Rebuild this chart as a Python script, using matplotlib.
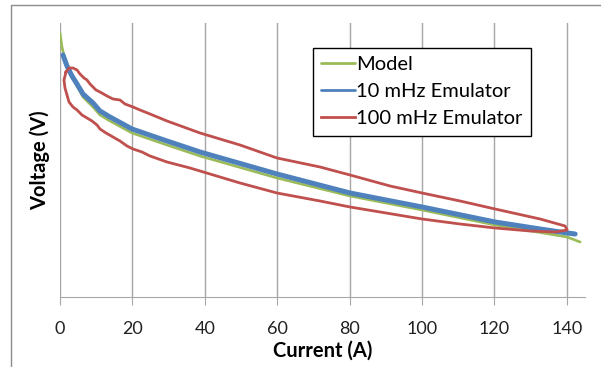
import matplotlib.pyplot as plt
from matplotlib.lines import Line2D

plt.rcParams['font.family'] = ['Lato', 'DejaVu Sans']

# Model
model_i = [0, 0.28, 0.55, 1.1, 1.93, 3.31, 4.70, 6.35, 9.12, 11.05, 13.81, 19.89, 29.56,
           38.67, 59.94, 80.11, 100.0, 120.17, 140.06, 143.65]
model_v = [26.4, 25.7, 25.0, 24.2, 23.1, 22.0, 21.1, 20.0, 19.0, 18.2, 17.6, 16.4, 15.2,
           14.1, 11.9, 10.1, 8.7, 7.2, 6.0, 5.5]

# 10 mHz emulator
emu10_i = [0.83, 1.93, 3.31, 4.70, 6.35, 9.12, 11.05, 13.81, 19.89, 29.56, 38.67, 59.94,
           80.11, 100.0, 120.17, 132.6, 140.06, 142.27]
emu10_v = [24.2, 23.1, 22.1, 21.3, 20.3, 19.4, 18.6, 18.0, 16.8, 15.6, 14.5, 12.3,
           10.4, 9.0, 7.5, 6.8, 6.4, 6.3]

# 100 mHz emulator (loop: lower branch out, upper branch back)
emu100_i = [1.66, 1.10, 1.38, 1.93, 2.49, 3.59, 4.70, 6.08, 7.46, 8.84, 10.22, 11.05, 12.71,
            14.64, 16.57, 18.51, 20.17, 22.65, 24.86, 29.56, 35.91, 38.67, 49.72, 59.94,
            71.82, 80.11, 88.40, 100.0, 110.50, 120.17, 129.83, 136.74, 140.06,
            139.5, 132.6, 120.17, 110.50, 100.0, 91.16, 80.11, 71.82, 59.94, 49.72, 38.67,
            29.56, 24.86, 22.10, 20.17, 17.96, 16.57, 14.64, 12.98, 11.05, 9.94, 9.12, 8.29,
            7.46, 6.63, 5.52, 4.70, 3.59, 2.49, 1.66]
emu100_v = [22.5, 21.7, 20.9, 20.2, 19.5, 19.0, 18.7, 18.2, 17.9, 17.6, 17.2, 16.8, 16.4,
            16.0, 15.6, 15.1, 14.8, 14.5, 14.1, 13.5, 12.9, 12.6, 11.4, 10.4,
            9.6, 9.0, 8.5, 7.8, 7.3, 6.9, 6.6, 6.5, 6.7,
            7.1, 7.8, 8.8, 9.6, 10.4, 11.1, 12.2, 13.0, 13.9, 15.2, 16.4,
            17.6, 18.3, 18.7, 19.0, 19.3, 19.7, 19.8, 20.1, 20.5, 20.7, 21.0, 21.3,
            21.7, 21.9, 22.3, 22.7, 22.9, 22.9, 22.5]

xticks = [0, 20, 40, 60, 80, 100, 120, 140]

fig = plt.figure(figsize=(6.01, 3.67), dpi=100)
# chart-area frame (left and top edges visible)
fig.lines.append(Line2D([11 / 601, 11 / 601, 1.0], [0.0, 1 - 5 / 367, 1 - 5 / 367],
                        transform=fig.transFigure, color='#8c8c8c', lw=1.0))
ax = fig.add_axes([60 / 601, 1 - 297 / 367, (585 - 60) / 601, (297 - 23) / 367])

ax.plot(model_i, model_v, color='#9BBB59', lw=1.9, label='Model', solid_capstyle='round')
ax.plot(emu10_i, emu10_v, color='#4F81BD', lw=3.6, label='10 mHz Emulator', solid_capstyle='round')
ax.plot(emu100_i, emu100_v, color='#C0504D', lw=2.0, label='100 mHz Emulator', solid_joinstyle='round')

ax.set_xlim(0, 145)
ax.set_ylim(0, 27.4)
ax.set_xticks(xticks)
ax.set_yticks([])
ax.grid(axis='x', color='#a6a6a6', lw=1.0)
ax.set_axisbelow(True)
for s in ['left', 'top', 'right']:
    ax.spines[s].set_visible(False)
ax.spines['bottom'].set_color('#a6a6a6')
ax.tick_params(axis='x', length=6, color='#a6a6a6', labelsize=13, pad=11, labelcolor='#222222')

ax.set_xlabel('Current (A)', fontsize=14.5, fontweight='bold', labelpad=3)
ax.set_ylabel('Voltage (V)', fontsize=14.5, fontweight='bold', labelpad=7)

leg = ax.legend(loc='upper left', bbox_to_anchor=((313 - 60) / 525, 1 - (48 - 23) / 274),
                fontsize=14.5, handlelength=1.7, handletextpad=0.05, borderpad=0.4,
                labelspacing=0.5, borderaxespad=0, fancybox=False, framealpha=1,
                edgecolor='black')
leg.get_frame().set_linewidth(1.0)
for ln in leg.get_lines():
    ln.set_linewidth(2.0)

fig.savefig('out.png', dpi=100)
